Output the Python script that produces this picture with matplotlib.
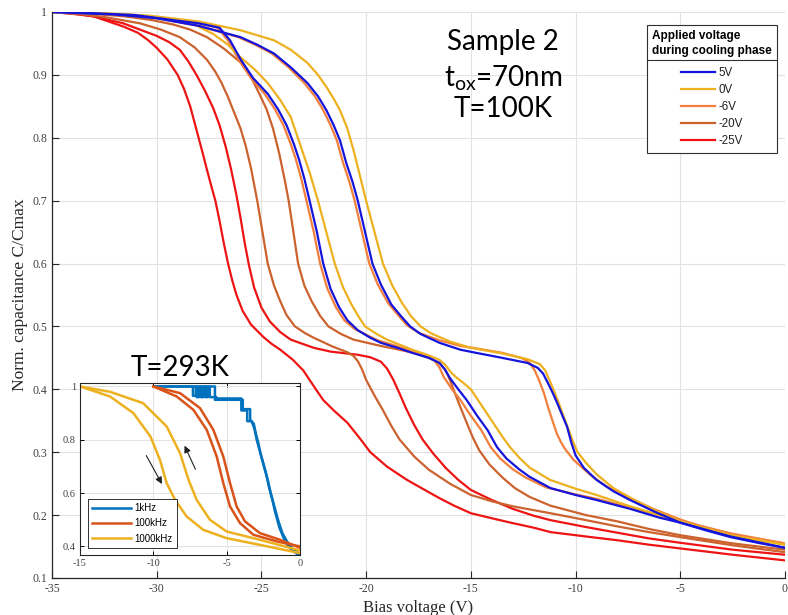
import matplotlib
matplotlib.use("Agg")
import matplotlib.pyplot as plt
from matplotlib.lines import Line2D

plt.rcParams['mathtext.fontset'] = 'custom'
plt.rcParams['mathtext.rm'] = 'Lato'
plt.rcParams['mathtext.it'] = 'Lato'

# ---------------- main data (Bias voltage V, normalized capacitance C/Cmax) ----------------
red_a_v = [-35, -34, -33, -32.4, -31.6, -30.9, -30.4, -30.0, -29.5, -29.0, -28.7, -28.4, -28.2, -28.0, -27.8, -27.6, -27.4, -27.2, -27.0, -26.8, -26.6, -26.4, -26.2, -25.9, -25.5, -24.9, -24.5, -24.1, -23.5, -23.0, -22.7, -22.4, -22.05, -21.5, -20.9, -20.3, -19.8, -19.0, -18.05, -17.2, -16.5, -15.8, -15.0, -14.0, -13.1, -12.0, -11.2, -9.5, -8.0, -6.5, -5.0, -2.5, 0]
red_a_c = [1.0, 0.998, 0.993, 0.986, 0.977, 0.967, 0.955, 0.943, 0.925, 0.90, 0.878, 0.85, 0.825, 0.80, 0.775, 0.749, 0.724, 0.70, 0.668, 0.633, 0.601, 0.574, 0.551, 0.525, 0.503, 0.483, 0.472, 0.463, 0.447, 0.43, 0.415, 0.40, 0.383, 0.365, 0.347, 0.322, 0.30, 0.277, 0.256, 0.24, 0.227, 0.215, 0.203, 0.195, 0.188, 0.18, 0.173, 0.166, 0.16, 0.153, 0.147, 0.137, 0.128]

red_b_v = [-35, -34, -33, -31.6, -30.8, -30.0, -29.4, -28.9, -28.5, -28.1, -27.7, -27.3, -27.0, -26.7, -26.45, -26.2, -26.0, -25.8, -25.6, -25.35, -25.0, -24.6, -24.1, -23.6, -22.5, -21.7, -20.4, -19.8, -19.3, -19.0, -18.7, -18.4, -18.1, -17.7, -17.3, -16.8, -16.2, -15.6, -15.0, -14.0, -13.0, -12.0, -11.2, -9.5, -8.0, -6.5, -5.0, -2.5, 0]
red_b_c = [1.0, 0.997, 0.993, 0.982, 0.972, 0.962, 0.952, 0.94, 0.922, 0.90, 0.875, 0.847, 0.82, 0.785, 0.75, 0.71, 0.673, 0.633, 0.598, 0.562, 0.53, 0.508, 0.491, 0.479, 0.466, 0.46, 0.455, 0.451, 0.444, 0.433, 0.415, 0.393, 0.37, 0.343, 0.32, 0.298, 0.275, 0.256, 0.24, 0.224, 0.21, 0.199, 0.192, 0.181, 0.172, 0.163, 0.156, 0.145, 0.137]

do_a_v = [-35, -33.5, -32.5, -30.8, -29.8, -28.9, -28.2, -27.6, -27.2, -26.9, -26.6, -26.3, -26.0, -25.75, -25.5, -25.2, -24.95, -24.7, -24.4, -24.1, -23.8, -23.4, -22.9, -22.5, -21.6, -20.9, -20.6, -20.4, -20.2, -20.0, -19.6, -19.2, -18.8, -18.4, -17.7, -17.0, -16.0, -15.0, -14.0, -13.0, -11.2, -9.5, -8.0, -6.5, -5.0, -2.5, 0]
do_a_c = [1.0, 0.996, 0.992, 0.982, 0.972, 0.96, 0.944, 0.924, 0.905, 0.887, 0.865, 0.84, 0.815, 0.787, 0.752, 0.70, 0.65, 0.60, 0.565, 0.54, 0.518, 0.50, 0.489, 0.482, 0.468, 0.459, 0.453, 0.445, 0.432, 0.415, 0.39, 0.367, 0.342, 0.32, 0.293, 0.272, 0.25, 0.232, 0.222, 0.214, 0.203, 0.192, 0.182, 0.173, 0.165, 0.152, 0.141]

do_b_v = [-35, -33, -31.5, -30.2, -29.2, -28.4, -27.6, -26.8, -26.0, -25.5, -25.1, -24.75, -24.45, -24.15, -23.9, -23.7, -23.45, -23.25, -22.95, -22.6, -22.2, -21.8, -21.2, -20.6, -19.3, -18.4, -17.6, -17.0, -16.5, -16.2, -16.0, -15.6, -15.2, -14.9, -14.6, -14.1, -13.5, -12.9, -12.2, -11.2, -9.5, -8.0, -6.5, -5.0, -2.5, 0]
do_b_c = [1.0, 0.997, 0.993, 0.987, 0.98, 0.972, 0.96, 0.942, 0.92, 0.897, 0.87, 0.845, 0.815, 0.775, 0.735, 0.70, 0.645, 0.60, 0.565, 0.54, 0.517, 0.50, 0.488, 0.479, 0.469, 0.463, 0.457, 0.45, 0.442, 0.43, 0.415, 0.38, 0.347, 0.323, 0.303, 0.28, 0.26, 0.243, 0.229, 0.215, 0.2, 0.19, 0.178, 0.168, 0.155, 0.145]

or_a_v = [-35, -33, -31, -29.2, -28, -27.1, -26.6, -26.1, -25.5, -24.85, -24.35, -23.95, -23.6, -23.35, -23.1, -22.85, -22.5, -22.2, -21.85, -21.45, -21.05, -20.55, -19.95, -19.45, -18.65, -17.95, -17.15, -16.75, -16.5, -16.3, -15.9, -15.5, -15.0, -14.5, -14.05, -13.6, -13.0, -12.4, -11.4, -10.0, -9.0, -7.4, -6.0, -5.0, -2.6, 0]
or_a_c = [1.0, 0.998, 0.995, 0.987, 0.982, 0.975, 0.955, 0.925, 0.895, 0.87, 0.845, 0.82, 0.79, 0.765, 0.735, 0.70, 0.65, 0.60, 0.56, 0.531, 0.51, 0.496, 0.486, 0.478, 0.47, 0.462, 0.454, 0.446, 0.435, 0.42, 0.40, 0.383, 0.358, 0.335, 0.308, 0.29, 0.273, 0.26, 0.244, 0.233, 0.226, 0.212, 0.2, 0.191, 0.171, 0.155]

or_b_v = [-35, -32, -30, -28, -26.1, -25.3, -24.5, -23.7, -22.95, -22.45, -22.05, -21.7, -21.4, -21.1, -20.8, -20.55, -20.2, -19.85, -19.45, -18.95, -18.45, -18.05, -17.5, -16.5, -15.5, -14.9, -13.5, -12.6, -12.2, -11.95, -11.75, -11.5, -11.3, -11.1, -10.9, -10.7, -10.5, -10.1, -9.3, -8.5, -7.6, -6.3, -5.0, -3.8, -2.6, -1.3, 0]
or_b_c = [1.0, 0.996, 0.99, 0.978, 0.96, 0.948, 0.934, 0.912, 0.887, 0.866, 0.844, 0.82, 0.796, 0.76, 0.73, 0.70, 0.65, 0.60, 0.567, 0.537, 0.517, 0.502, 0.49, 0.478, 0.469, 0.466, 0.458, 0.45, 0.443, 0.43, 0.415, 0.393, 0.37, 0.35, 0.33, 0.316, 0.305, 0.288, 0.264, 0.245, 0.23, 0.21, 0.193, 0.18, 0.17, 0.162, 0.155]

ye_a_v = [-35, -33, -31, -28.5, -27.3, -26.6, -26.0, -25.3, -24.7, -24.1, -23.6, -23.16, -22.7, -22.3, -21.9, -21.5, -21.1, -20.7, -20.35, -20.05, -19.5, -19.0, -18.4, -17.8, -17.1, -16.5, -16.2, -15.95, -15.66, -15.35, -15.0, -14.5, -13.94, -13.5, -13.13, -12.65, -12.17, -11.22, -10.0, -9.0, -7.4, -6.0, -5.0, -2.6, 0]
ye_a_c = [1.0, 0.998, 0.995, 0.985, 0.965, 0.948, 0.928, 0.908, 0.887, 0.86, 0.833, 0.79, 0.745, 0.70, 0.65, 0.60, 0.562, 0.535, 0.515, 0.50, 0.488, 0.479, 0.471, 0.463, 0.455, 0.447, 0.438, 0.427, 0.418, 0.41, 0.40, 0.375, 0.347, 0.325, 0.308, 0.29, 0.275, 0.256, 0.242, 0.232, 0.214, 0.2, 0.19, 0.168, 0.153]

ye_b_v = [-35, -32.5, -30.3, -28, -26.0, -25.2, -24.4, -23.6, -22.8, -22.3, -21.9, -21.55, -21.25, -20.9, -20.6, -20.3, -20.0, -19.6, -19.2, -18.75, -18.3, -17.85, -17.4, -16.9, -16.0, -15.0, -13.5, -12.3, -11.7, -11.45, -11.25, -11.0, -10.8, -10.55, -10.3, -10.1, -9.9, -9.5, -9.0, -8.2, -7.4, -6.2, -5.0, -3.8, -2.6, -1.3, 0]
ye_b_c = [1.0, 0.998, 0.994, 0.985, 0.971, 0.963, 0.955, 0.94, 0.919, 0.90, 0.881, 0.862, 0.844, 0.815, 0.78, 0.74, 0.70, 0.65, 0.60, 0.565, 0.538, 0.516, 0.50, 0.489, 0.476, 0.466, 0.457, 0.448, 0.44, 0.43, 0.415, 0.395, 0.378, 0.355, 0.333, 0.315, 0.30, 0.283, 0.265, 0.243, 0.228, 0.207, 0.19, 0.178, 0.168, 0.16, 0.153]

bl_a_v = [-35, -33, -31, -29.2, -28, -27.0, -26.5, -26.0, -25.4, -24.7, -24.2, -23.8, -23.45, -23.2, -22.95, -22.7, -22.35, -22.05, -21.7, -21.3, -20.9, -20.4, -19.8, -19.3, -18.5, -17.8, -17.0, -16.5, -16.25, -16.0, -15.6, -15.2, -14.7, -14.2, -13.75, -13.3, -12.7, -12.2, -11.2, -10.0, -9.0, -7.4, -6.0, -5.0, -2.6, 0]
bl_a_c = [1.0, 0.998, 0.995, 0.987, 0.982, 0.975, 0.955, 0.925, 0.895, 0.87, 0.845, 0.82, 0.79, 0.765, 0.735, 0.70, 0.65, 0.60, 0.56, 0.531, 0.51, 0.494, 0.482, 0.474, 0.466, 0.458, 0.45, 0.442, 0.432, 0.418, 0.40, 0.383, 0.358, 0.335, 0.308, 0.29, 0.273, 0.261, 0.243, 0.232, 0.224, 0.21, 0.196, 0.188, 0.166, 0.148]

bl_b_v = [-35, -32, -30, -28, -26.0, -25.2, -24.4, -23.6, -22.8, -22.3, -21.9, -21.55, -21.25, -20.95, -20.65, -20.4, -20.05, -19.7, -19.3, -18.8, -18.3, -17.9, -17.4, -16.5, -15.5, -14.9, -13.5, -12.3, -11.8, -11.55, -11.35, -11.1, -10.9, -10.65, -10.4, -10.2, -10.0, -9.6, -9.0, -8.2, -7.4, -6.2, -5.0, -3.8, -2.6, -1.3, 0]
bl_b_c = [1.0, 0.996, 0.99, 0.978, 0.96, 0.948, 0.934, 0.912, 0.887, 0.866, 0.844, 0.82, 0.796, 0.76, 0.73, 0.70, 0.65, 0.60, 0.567, 0.535, 0.515, 0.50, 0.488, 0.474, 0.463, 0.459, 0.45, 0.442, 0.434, 0.425, 0.412, 0.395, 0.38, 0.36, 0.34, 0.315, 0.295, 0.275, 0.256, 0.238, 0.224, 0.205, 0.188, 0.176, 0.165, 0.156, 0.148]

legend_labels = ['5V', '0V', '-6V', '-20V', '-25V']
x_ticks = [-35, -30, -25, -20, -15, -10, -5, 0]
x_ticklabels = ['-35', '-30', '-25', '-20', '-15', '-10', '-5', '0']
y_ticks = [0.1, 0.2, 0.3, 0.4, 0.5, 0.6, 0.7, 0.8, 0.9, 1.0]
y_ticklabels = ['0.1', '0.2', '0.3', '0.4', '0.5', '0.6', '0.7', '0.8', '0.9', '1']

# ---------------- inset data (T=293K) ----------------
in_ye_a_v = [-15, -12.95, -11.36, -10.2, -9.55, -9.09, -8.52, -7.73, -6.6, -5.0, -2.73, 0]
in_ye_a_c = [1.0, 0.9625, 0.90, 0.8125, 0.725, 0.6375, 0.575, 0.5125, 0.4625, 0.431, 0.406, 0.375]
in_ye_b_v = [-15, -12.95, -10.7, -9.09, -8.18, -7.6, -7.05, -6.14, -5.0, -2.73, 0]
in_ye_b_c = [1.0, 0.98, 0.9375, 0.85, 0.75, 0.65, 0.575, 0.5, 0.456, 0.425, 0.385]
in_or_a_v = [-10, -8.41, -7.27, -6.36, -5.68, -5.23, -4.77, -4.09, -3.18, -1.59, 0]
in_or_a_c = [1.0, 0.9625, 0.9125, 0.8375, 0.7375, 0.6375, 0.55, 0.4875, 0.444, 0.419, 0.40]
in_or_b_v = [-10, -8.18, -6.82, -5.91, -5.23, -4.77, -4.32, -3.75, -2.73, -1.36, 0]
in_or_b_c = [1.0, 0.975, 0.919, 0.8375, 0.7375, 0.6375, 0.55, 0.494, 0.45, 0.425, 0.395]
in_bl_a_v = [-9.9, -7.05, -7.05, -6.9, -6.9, -6.75, -6.75, -6.6, -6.6, -6.45, -6.45, -6.3, -6.3, -6.15, -6.15, -5.7, -5.7, -4.0, -4.0, -3.6, -3.6, -3.3, -3.1, -2.95, -2.8, -2.6, -2.4, -2.2, -2.0, -1.8, -1.5, -1.2, -0.9, -0.5, 0]
in_bl_a_c = [1.0, 1.0, 0.96, 0.96, 1.0, 1.0, 0.96, 0.96, 1.0, 1.0, 0.96, 0.96, 1.0, 1.0, 0.96, 0.96, 0.955, 0.955, 0.91, 0.91, 0.87, 0.87, 0.84, 0.80, 0.77, 0.73, 0.69, 0.65, 0.60, 0.56, 0.50, 0.45, 0.42, 0.39, 0.37]
in_bl_b_v = [-9.9, -7.3, -7.3, -7.1, -7.1, -6.95, -6.95, -6.8, -6.8, -6.65, -6.65, -6.5, -6.5, -6.35, -6.35, -6.2, -6.2, -5.8, -5.8, -3.9, -3.9, -3.4, -3.4, -3.15, -3.0, -2.85, -2.7, -2.5, -2.3, -2.1, -1.9, -1.7, -1.4, -1.1, -0.8, -0.4, 0]
in_bl_b_c = [1.0, 1.0, 0.965, 0.965, 1.0, 1.0, 0.965, 0.965, 1.0, 1.0, 0.965, 0.965, 1.0, 1.0, 0.965, 0.965, 1.0, 1.0, 0.95, 0.95, 0.915, 0.915, 0.875, 0.86, 0.82, 0.79, 0.75, 0.71, 0.67, 0.62, 0.58, 0.53, 0.47, 0.43, 0.40, 0.38, 0.365]
inset_labels = ['1kHz', '100kHz', '1000kHz']
in_x_ticks = [-15, -10, -5, 0]
in_x_ticklabels = ['-15', '-10', '-5', '0']
in_y_ticks = [0.4, 0.6, 0.8, 1.0]
in_y_ticklabels = ['0.4', '0.6', '0.8', '1']

# ---------------- styling ----------------
C_BLUE = '#1414DC'
C_YEL = '#EDB120'
C_OR = '#F27F3C'
C_DO = '#CC622D'
C_RED = '#EE1414'
M_BLUE = '#0072BD'
M_OR = '#D95319'
M_YEL = '#EDB120'
SERIF = 'Liberation Serif'
TICKC = '#404040'
GRIDC = '#E2E2E2'

fig = plt.figure(figsize=(7.88, 6.15), dpi=100)
ax = fig.add_axes([52/788, 1-578/615, (785-52)/788, (578-12)/615])

lw = 1.6
ax.plot(red_a_v, red_a_c, color=C_RED, lw=lw)
hr, = ax.plot(red_b_v, red_b_c, color=C_RED, lw=lw)
ax.plot(do_a_v, do_a_c, color=C_DO, lw=lw)
hd, = ax.plot(do_b_v, do_b_c, color=C_DO, lw=lw)
ax.plot(or_a_v, or_a_c, color=C_OR, lw=lw)
ho, = ax.plot(or_b_v, or_b_c, color=C_OR, lw=lw)
ax.plot(ye_a_v, ye_a_c, color=C_YEL, lw=lw)
hy, = ax.plot(ye_b_v, ye_b_c, color=C_YEL, lw=lw)
ax.plot(bl_a_v, bl_a_c, color=C_BLUE, lw=lw)
hb, = ax.plot(bl_b_v, bl_b_c, color=C_BLUE, lw=lw)

ax.set_xlim(-35, 0)
ax.set_ylim(0.1, 1.0)
ax.set_xticks(x_ticks)
ax.set_xticklabels(x_ticklabels, family=SERIF, fontsize=8.5, color=TICKC)
ax.set_yticks(y_ticks)
ax.set_yticklabels(y_ticklabels, family=SERIF, fontsize=8.5, color=TICKC)
ax.tick_params(direction='in', length=5, width=0.8, color='#262626')
ax.grid(True, color=GRIDC, lw=0.8)
ax.set_axisbelow(True)
for s in ['top', 'right']:
    ax.spines[s].set_visible(False)
for s in ['left', 'bottom']:
    ax.spines[s].set_color('#262626')
    ax.spines[s].set_linewidth(0.9)
ax.set_xlabel('Bias voltage (V)', family=SERIF, fontsize=12, color='#262626', labelpad=4)
ax.set_ylabel('Norm. capacitance C/Cmax', family=SERIF, fontsize=12.5, color='#262626', labelpad=3)

leg = ax.legend([hb, hy, ho, hd, hr], legend_labels, loc='upper right',
                bbox_to_anchor=(0.989, 0.977), borderaxespad=0,
                title='Applied voltage\nduring cooling phase',
                prop={'family': 'Liberation Sans', 'size': 8.3},
                title_fontproperties={'family': 'Liberation Sans', 'size': 8.5, 'weight': 'bold'},
                fancybox=False, edgecolor='#303030', framealpha=1,
                handlelength=3.0, handletextpad=0.3, labelspacing=0.45,
                alignment='center', borderpad=0.45)
leg.get_frame().set_linewidth(0.8)
leg.get_title().set_linespacing(1.3)
for t in leg.get_texts():
    t.set_color('#202020')
leg._legend_box.sep = 7

# text annotations
SANS = 'Lato'
ax.text(-13.46, 0.952, 'Sample 2', fontsize=20, family=SANS, ha='center', va='center', color='black')
ax.text(-13.46, 0.895, 't$_{\\mathrm{ox}}$=70nm', fontsize=20, family=SANS, ha='center', va='center', color='black')
ax.text(-13.46, 0.846, 'T=100K', fontsize=20, family=SANS, ha='center', va='center', color='black')
ax.text(-28.9, 0.434, 'T=293K', fontsize=20, family=SANS, ha='center', va='center', color='black')

# ---------------- inset ----------------
axi = fig.add_axes([80/788, 1-555/615, 220/788, 172/615])
ilw = 1.8
h1, = axi.plot(in_bl_a_v, in_bl_a_c, color=M_BLUE, lw=ilw)
axi.plot(in_bl_b_v, in_bl_b_c, color=M_BLUE, lw=ilw)
h2, = axi.plot(in_or_a_v, in_or_a_c, color=M_OR, lw=ilw)
axi.plot(in_or_b_v, in_or_b_c, color=M_OR, lw=ilw)
h3, = axi.plot(in_ye_a_v, in_ye_a_c, color=M_YEL, lw=ilw)
axi.plot(in_ye_b_v, in_ye_b_c, color=M_YEL, lw=ilw)
axi.set_xlim(-15, 0)
axi.set_ylim(0.368, 1.013)
axi.set_xticks(in_x_ticks)
axi.set_xticklabels(in_x_ticklabels, family=SERIF, fontsize=7.5, color=TICKC)
axi.set_yticks(in_y_ticks)
axi.set_yticklabels(in_y_ticklabels, family=SERIF, fontsize=7.5, color=TICKC)
axi.tick_params(direction='in', length=3, width=0.7, top=True, right=True, pad=3)
axi.grid(True, color=GRIDC, lw=0.7)
axi.set_axisbelow(True)
for s in axi.spines.values():
    s.set_color('#262626')
    s.set_linewidth(0.8)
axi.annotate('', xy=(-9.32, 0.625), xytext=(-10.57, 0.75),
             arrowprops=dict(arrowstyle='-|>', color='#202020', lw=0.8, mutation_scale=10))
axi.annotate('', xy=(-7.95, 0.7875), xytext=(-7.05, 0.68),
             arrowprops=dict(arrowstyle='-|>', color='#202020', lw=0.8, mutation_scale=10))
ileg = axi.legend([h1, h2, h3], inset_labels, loc='lower left', bbox_to_anchor=(0.035, 0.04),
                  borderaxespad=0, prop={'family': 'Liberation Sans', 'size': 7},
                  fancybox=False, edgecolor='#303030', framealpha=1,
                  handlelength=4.0, handletextpad=0.3, labelspacing=0.55, borderpad=0.45)
ileg.get_frame().set_linewidth(0.7)

# separator line under legend title
fig.canvas.draw()
r = fig.canvas.get_renderer()
lb = leg.get_window_extent(r)
tb = leg.get_title().get_window_extent(r)
ysep = tb.y0 - 3
inv = fig.transFigure.inverted()
p0 = inv.transform((lb.x0, ysep))
p1 = inv.transform((lb.x1, ysep))
fig.add_artist(Line2D([p0[0], p1[0]], [p0[1], p1[1]], color='#303030', lw=0.8, transform=fig.transFigure))

fig.savefig('out.png', dpi=100)
